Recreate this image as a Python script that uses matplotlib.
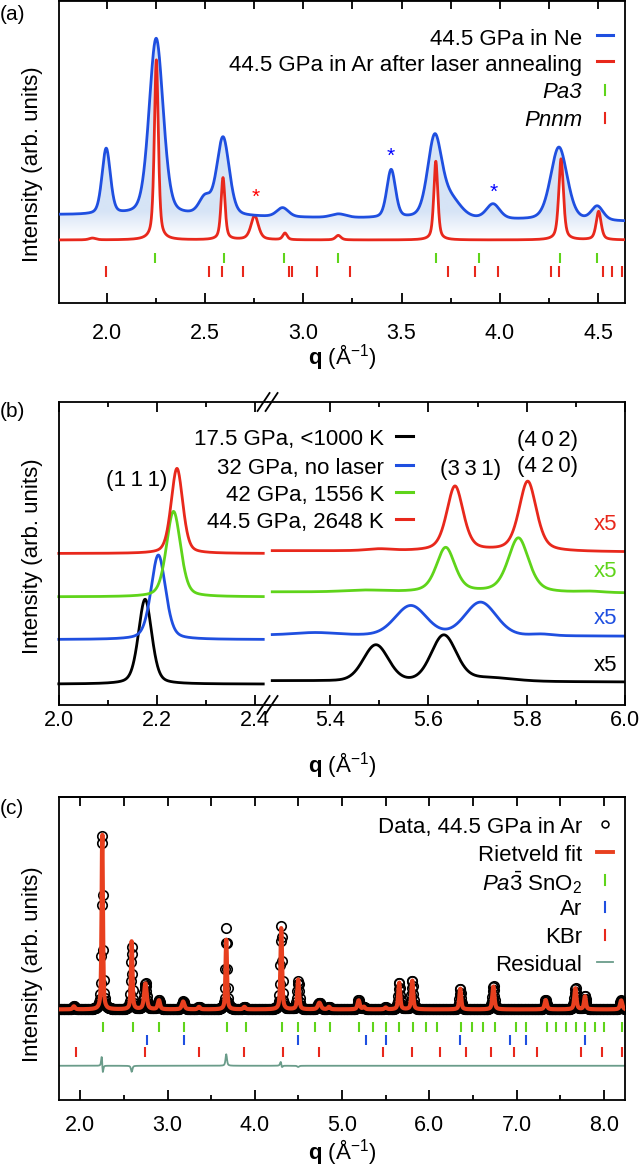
import numpy as np
import matplotlib
matplotlib.use("Agg")
import matplotlib.pyplot as plt
from matplotlib.lines import Line2D
from matplotlib.colors import LinearSegmentedColormap

plt.rcParams['font.family'] = ['Liberation Sans', 'DejaVu Sans']
plt.rcParams['mathtext.fontset'] = 'custom'
plt.rcParams['mathtext.rm'] = 'Liberation Sans'
plt.rcParams['mathtext.it'] = 'Liberation Sans:italic'
plt.rcParams['mathtext.bf'] = 'Liberation Sans:bold'

# ======================= DATA =======================
# ---- panel (a): 44.5 GPa in Ne (blue) ----
a_ne_bg_q = [1.757, 4.636]
a_ne_bg_lvl = [0.292, 0.270]
a_ne_pos = [1.998, 2.252, 2.500, 2.592, 2.895, 3.180, 3.447, 3.668, 3.750, 3.965, 4.300, 4.495]
a_ne_hgt = [0.217, 0.585, 0.055, 0.259, 0.030, 0.012, 0.159, 0.263, 0.060, 0.049, 0.242, 0.046]
a_ne_fwhm = [0.050, 0.085, 0.070, 0.075, 0.070, 0.090, 0.052, 0.085, 0.120, 0.080, 0.100, 0.070]
# ---- panel (a): 44.5 GPa in Ar after laser annealing (red) ----
a_ar_base = 0.209
a_ar_pos = [1.928, 2.253, 2.592, 2.753, 2.907, 3.178, 3.674, 4.311, 4.502]
a_ar_hgt = [0.006, 0.595, 0.205, 0.080, 0.022, 0.015, 0.260, 0.268, 0.094]
a_ar_fwhm = [0.040, 0.024, 0.024, 0.045, 0.026, 0.032, 0.024, 0.028, 0.030]
a_pa3_ticks = [2.248, 2.598, 2.900, 3.179, 3.673, 3.893, 4.305, 4.494]
a_pnnm_ticks = [1.996, 2.519, 2.586, 2.694, 2.925, 2.945, 3.070, 3.239, 3.737,
                3.874, 3.991, 4.258, 4.301, 4.523, 4.568, 4.620]
a_stars = [(2.756, 0.349, 'red'), (3.447, 0.484, 'blue'), (3.970, 0.368, 'blue')]

# ---- panel (b) ----
b_labels = ['17.5 GPa, <1000 K', '32 GPa, no laser', '42 GPa, 1556 K', '44.5 GPa, 2648 K']
b_base_left = [0.069, 0.216, 0.357, 0.500]
b_base_right = [0.080, 0.231, 0.373, 0.509]
b_left_pos = [2.176, 2.203, 2.234, 2.241]
b_left_hgt = [0.280, 0.279, 0.282, 0.281]
b_left_fwhm = [0.032, 0.035, 0.034, 0.028]
b_right_pos = [[5.493, 5.631, 5.720], [5.370, 5.564, 5.706, 5.830], [5.470, 5.635, 5.783, 5.930], [5.500, 5.654, 5.802]]
b_right_hgt = [[0.119, 0.150, 0.012], [0.008, 0.098, 0.110, 0.005], [0.006, 0.147, 0.180, 0.004], [0.006, 0.214, 0.231]]
b_right_fwhm = [[0.060, 0.060, 0.120], [0.100, 0.075, 0.075, 0.050], [0.100, 0.045, 0.050, 0.060], [0.060, 0.040, 0.042]]
b_right_eta = [0.15, 0.15, 0.45, 0.45]
b_hkl = [('(1\u20091\u20091)', 'L', 2.159, 0.748), ('(3\u20093\u20091)', 'R', 5.685, 0.784),
         ('(4\u20090\u20092)', 'R', 5.843, 0.880), ('(4\u20092\u20090)', 'R', 5.843, 0.797)]
b_x5_y = [0.138, 0.293, 0.449, 0.604]

# ---- panel (c) ----
c_base = 0.299
c_pos = [1.925, 2.2505, 2.588, 2.745, 2.900, 3.178, 3.360, 3.672, 3.880, 4.303, 4.497, 4.740,
         4.850, 5.190, 5.250, 5.500, 5.655, 5.805, 6.355, 6.735, 7.335, 7.675, 7.785, 8.200]
c_fwhm = [0.030, 0.018, 0.020, 0.035, 0.030, 0.035, 0.030, 0.020, 0.030, 0.022, 0.025, 0.040,
          0.030, 0.030, 0.030, 0.030, 0.025, 0.025, 0.025, 0.028, 0.030, 0.028, 0.025, 0.030]
c_fit_hgt = [0.010, 0.590, 0.226, 0.086, 0.030, 0.026, 0.008, 0.230, 0.008, 0.270, 0.098, 0.022,
             0.008, 0.030, 0.008, 0.006, 0.090, 0.097, 0.070, 0.077, 0.031, 0.071, 0.044, 0.030]
c_obs_pos = [1.925, 2.2499, 2.588, 2.745, 2.900, 3.178, 3.360, 3.672, 3.880, 4.3025, 4.497, 4.740,
             4.850, 5.190, 5.250, 5.500, 5.655, 5.805, 6.355, 6.735, 7.335, 7.675, 7.785, 8.200]
c_obs_hgt = [0.010, 0.598, 0.206, 0.086, 0.030, 0.026, 0.008, 0.268, 0.008, 0.276, 0.094, 0.022,
             0.008, 0.030, 0.008, 0.006, 0.090, 0.097, 0.070, 0.077, 0.031, 0.071, 0.044, 0.030]
c_resid_offset = 0.113
c_sno2_ticks = [2.254, 2.602, 2.903, 3.183, 3.675, 3.896, 4.311, 4.494, 4.689, 4.858, 5.193, 5.359,
                5.507, 5.656, 5.808, 5.957, 6.093, 6.360, 6.491, 6.618, 6.750, 6.992, 7.110, 7.344,
                7.458, 7.568, 7.679, 7.789, 7.895, 8.001, 8.209]
c_ar_ticks = [2.759, 3.183, 4.494, 5.274, 5.507, 6.355, 6.928, 7.110, 7.780]
c_kbr_ticks = [1.945, 2.742, 3.357, 3.874, 4.324, 4.740, 5.473, 5.804, 6.122, 6.423, 6.703,
               6.975, 7.238, 7.734, 7.976, 8.205]

# ======================= STYLE =======================
BLUE = '#1f4fe0'
RED = '#e8281c'
GREEN = '#5fd41a'
FIT = '#e8401f'
RESID = '#6a9c8a'
FS = 16
TFS = 15.5


def profile(q, pos, hgt, fwhm, eta=0.65):
    y = np.zeros_like(q)
    for p, h, w in zip(pos, hgt, fwhm):
        x = (q - p) / (w / 2.0)
        y += h * (eta / (1 + x ** 2) + (1 - eta) * np.exp(-np.log(2) * x ** 2))
    return y


W, H = 640.0, 1166.0
L, R = 58.8, 625.0


def rect(top, bot, l=L, r=R):
    return [l / W, 1 - bot / H, (r - l) / W, (bot - top) / H]


def fxy(x, y):
    return x / W, 1 - y / H


fig = plt.figure(figsize=(6.4, 11.66), dpi=100)


def style_axes(ax, major, minor, pad, fmt="{:.1f}"):
    ax.set_xticks(major)
    ax.set_xticklabels([fmt.format(v) for v in major])
    ax.set_xticks(minor, minor=True)
    ax.set_yticks([])
    ax.tick_params(axis='x', which='major', direction='in', length=7, width=1.3,
                   labelsize=TFS, pad=pad, top=False)
    ax.tick_params(axis='x', which='minor', direction='in', length=3.5, width=1.3, top=False)
    for s in ax.spines.values():
        s.set_linewidth(1.3)


def top_ticks(ax, ticks):
    sec = ax.secondary_xaxis('top')
    sec.set_xticks(ticks)
    sec.tick_params(direction='in', length=6.5, width=1.3, labeltop=False)
    sec.spines['top'].set_linewidth(1.3)


# ------------------- panel (a) -------------------
ax = fig.add_axes(rect(0.5, 303.3))
xa0, xa1 = 1.757, 4.636
qa = np.linspace(xa0, xa1, 3000)
ne = np.interp(qa, a_ne_bg_q, a_ne_bg_lvl) + profile(qa, a_ne_pos, a_ne_hgt, a_ne_fwhm, 0.3)
ar = a_ar_base + profile(qa, a_ar_pos, a_ar_hgt, a_ar_fwhm, 0.55)
poly = ax.fill_between(qa, ar, ne, color='none', lw=0)
yy = np.linspace(0, 1, 600)
g = np.clip((yy - 0.215) / 0.09, 0, 1).reshape(-1, 1)
cmap = LinearSegmentedColormap.from_list('grad', ['#ffffff', '#d6e4f6'])
im = ax.imshow(g, extent=[xa0, xa1, 0, 1], origin='lower', cmap=cmap, aspect='auto',
               vmin=0, vmax=1, zorder=1, interpolation='bilinear')
im.set_clip_path(poly.get_paths()[0], transform=ax.transData)
ax.plot(qa, ar, color=RED, lw=2.0, zorder=3)
ax.plot(qa, ne, color=BLUE, lw=2.0, zorder=4)
ax.vlines(a_pa3_ticks, 0.150 - 0.017, 0.150 + 0.017, color=GREEN, lw=1.5)
ax.vlines(a_pnnm_ticks, 0.105 - 0.017, 0.105 + 0.017, color=RED, lw=1.5)
for sx, sy, sc in a_stars:
    ax.text(sx, sy, '*', color=sc, fontsize=15, ha='center', va='center')
ax.set_xlim(xa0, xa1)
ax.set_ylim(0, 1)
style_axes(ax, [2.0, 2.5, 3.0, 3.5, 4.0, 4.5], [2.25, 2.75, 3.25, 3.75, 4.25], pad=14.2)
top_ticks(ax, np.arange(2.0, 4.6, 0.25))

# ------------------- panel (b) -------------------
frac = 0.3687
xm = L + frac * (R - L)
axl = fig.add_axes(rect(402, 705, L, xm))
axr = fig.add_axes(rect(402, 705, xm, R))
ql = np.linspace(2.0, 2.417, 800)
qr = np.linspace(5.282, 6.0, 1500)
bcols = ['black', BLUE, GREEN, RED]
for i in range(4):
    yl = b_base_left[i] + profile(ql, [b_left_pos[i]], [b_left_hgt[i]], [b_left_fwhm[i]], 0.35)
    yr = (np.interp(qr, [5.282, 6.0], [b_base_right[i], b_base_right[i] - 0.004])
          + profile(qr, b_right_pos[i], b_right_hgt[i], b_right_fwhm[i], b_right_eta[i]))
    axl.plot(ql, yl, color=bcols[i], lw=2.0, clip_on=False)
    axr.plot(qr, yr, color=bcols[i], lw=2.0)
    axr.text(5.985, b_x5_y[i], 'x5', color=bcols[i], fontsize=FS, ha='right', va='center_baseline')
for txt, side, hx, hy in b_hkl:
    (axl if side == 'L' else axr).text(hx, hy, txt, fontsize=FS, ha='center', va='center_baseline')
axl.set_xlim(2.0, 2.4258)
axr.set_xlim(5.2725, 6.0)
for a_ in (axl, axr):
    a_.set_ylim(0, 1)
style_axes(axl, [2.0, 2.2, 2.4], [2.1, 2.3], pad=3.5)
style_axes(axr, [5.4, 5.6, 5.8, 6.0], [5.5, 5.7, 5.9], pad=3.5)
axl.tick_params(axis='x', which='both', top=True)
axr.tick_params(axis='x', which='both', top=True)
axl.spines['right'].set_visible(False)
axr.spines['left'].set_visible(False)
# break marks
for yb in (402, 705):
    for dx in (-4, 4):
        x0, y0 = fxy(xm + dx - 6, yb + 9)
        x1, y1 = fxy(xm + dx + 6, yb - 9)
        fig.add_artist(Line2D([x0, x1], [y0, y1], color='black', lw=1.3))
# legend (b)
b_rows = [437, 466, 493, 520]
for i in range(4):
    fig.text(384 / W, 1 - b_rows[i] / H, b_labels[i], fontsize=FS, ha='right', va='center_baseline')
    x0, y0 = fxy(396, b_rows[i] - 1)
    x1, _ = fxy(413, 0)
    fig.add_artist(Line2D([x0, x1], [y0, y0], color=bcols[i], lw=2.2))

# ------------------- panel (c) -------------------
axc = fig.add_axes(rect(797, 1100))
xc0, xc1 = 1.752, 8.244
qc = np.arange(1.752, 8.244, 0.005)
fit = c_base + profile(qc, c_pos, c_fit_hgt, c_fwhm, 0.6)
obs = c_base + profile(qc, c_obs_pos, c_obs_hgt, c_fwhm, 0.6)
axc.plot(qc, obs, ls='none', marker='o', ms=6.8, mfc='none', mec='black', mew=1.2, zorder=2)
axc.plot(qc, fit, color=FIT, lw=3.0, zorder=3)
axc.vlines(c_sno2_ticks, 0.2415 - 0.0165, 0.2415 + 0.0165, color=GREEN, lw=1.5)
axc.vlines(c_ar_ticks, 0.198 - 0.0165, 0.198 + 0.0165, color=BLUE, lw=1.5)
axc.vlines(c_kbr_ticks, 0.160 - 0.0165, 0.160 + 0.0165, color=RED, lw=1.5)
axc.plot(qc, c_resid_offset + (obs - fit), color=RESID, lw=1.3)
axc.set_xlim(xc0, xc1)
axc.set_ylim(0, 1)
style_axes(axc, [2.0, 3.0, 4.0, 5.0, 6.0, 7.0, 8.0], [2.5, 3.5, 4.5, 5.5, 6.5, 7.5], pad=10.5)
top_ticks(axc, np.arange(2.0, 8.1, 0.5))

# legend (a)
a_rows = [36.7, 63, 90, 118]
fig.text(582 / W, 1 - a_rows[0] / H, '44.5 GPa in Ne', fontsize=FS, ha='right', va='center_baseline')
fig.text(582 / W, 1 - a_rows[1] / H, '44.5 GPa in Ar after laser annealing', fontsize=FS,
         ha='right', va='center_baseline')
fig.text(582 / W, 1 - a_rows[2] / H, 'Pa3', fontsize=FS, style='italic', ha='right', va='center_baseline')
fig.text(582 / W, 1 - a_rows[3] / H, 'Pnnm', fontsize=FS, style='italic', ha='right', va='center_baseline')
for yr_, col in ((a_rows[0] - 2, BLUE), (a_rows[1] - 2, RED)):
    x0, y0 = fxy(597, yr_)
    x1, _ = fxy(613, 0)
    fig.add_artist(Line2D([x0, x1], [y0, y0], color=col, lw=2.2))
for yr_, col in ((a_rows[2], GREEN), (a_rows[3], RED)):
    x0, y0 = fxy(605, yr_ - 5)
    _, y1 = fxy(605, yr_ + 5)
    fig.add_artist(Line2D([x0, x0], [y0, y1], color=col, lw=1.5))

# legend (c)
c_rows = [825, 853, 880, 907, 935, 963]
c_texts = ['Data, 44.5 GPa in Ar', 'Rietveld fit', r'$\mathit{Pa}\bar{\mathrm{3}}$ SnO$_{\mathrm{2}}$',
           'Ar', 'KBr', 'Residual']
for yr_, t in zip(c_rows, c_texts):
    fig.text(582 / W, 1 - yr_ / H, t, fontsize=FS, ha='right', va='center_baseline')
x0, y0 = fxy(605, c_rows[0] - 1)
fig.add_artist(Line2D([x0], [y0], marker='o', ms=5, mfc='none', mec='black', mew=1.1, ls='none'))
x0, y0 = fxy(597, c_rows[1] - 1)
x1, _ = fxy(613, 0)
fig.add_artist(Line2D([x0, x1], [y0, y0], color=FIT, lw=2.8))
for yr_, col in ((c_rows[2], GREEN), (c_rows[3], BLUE), (c_rows[4], RED)):
    x0, y0 = fxy(605, yr_ - 5)
    _, y1 = fxy(605, yr_ + 5)
    fig.add_artist(Line2D([x0, x0], [y0, y1], color=col, lw=1.5))
x0, y0 = fxy(597, c_rows[5] - 1)
fig.add_artist(Line2D([x0, x1], [y0, y0], color=RESID, lw=1.3))

# axis labels and panel letters
xc = (L + R) / 2
for ypx in (357, 765, 1152):
    fig.text(xc / W, 1 - ypx / H, r'$\mathbf{q}$ (Å$^{\mathrm{-1}}$)', fontsize=FS, ha='center', va='center')
for ypx in (164, 556, 964):
    fig.text(33 / W, 1 - ypx / H, 'Intensity (arb. units)', fontsize=FS, rotation=90,
             ha='center', va='center')
for ypx, lab in ((14, '(a)'), (412, '(b)'), (808, '(c)')):
    fig.text(0.0, 1 - ypx / H, lab, fontsize=15, ha='left', va='center')

fig.savefig('out.png', dpi=100)
